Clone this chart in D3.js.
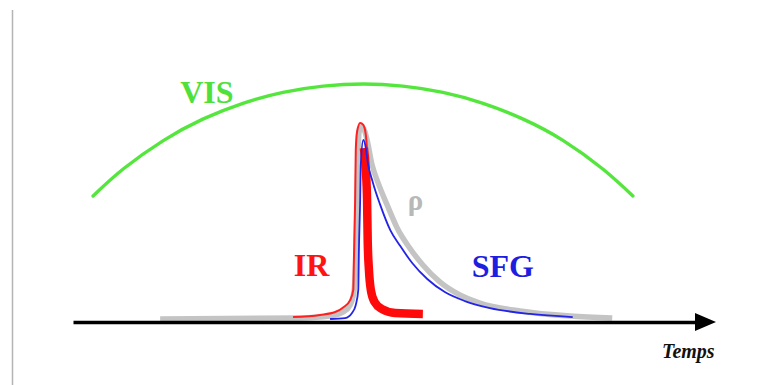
<!DOCTYPE html>
<html>
<head>
<meta charset="utf-8">
<script src="https://cdn.jsdelivr.net/npm/d3@7/dist/d3.min.js"></script>
<style>
html,body{margin:0;padding:0;background:#fff;}
svg{display:block;}
</style>
</head>
<body>
<svg id="chart" width="770" height="385"></svg>
<script>
// ---- data (time t in 0..100, signal in arbitrary units, peak ~100) ----
const visT = [3.2, 8.0, 14.4, 20.7, 27.1, 33.5, 39.9, 46.3, 52.6, 59.0, 65.4, 71.8, 78.2, 84.5, 89.3];
const visV = [63.1, 76.9, 91.5, 102.5, 110.6, 116.2, 119.4, 120.5, 119.4, 116.2, 110.6, 102.5, 91.5, 76.9, 63.1];

const rhoT = [13.9, 36.2, 41.0, 43.1, 44.2, 44.8, 45.1, 45.3, 45.5, 45.6, 45.9, 46.4, 46.9, 47.7, 48.6, 50.1, 51.7, 53.7, 55.8, 58.5, 61.7, 64.9, 71.3, 79.3, 86.0];
const rhoV = [0, 0.5, 1.5, 3.6, 7.2, 13.8, 30.3, 61.0, 86.7, 95.4, 98.5, 97.4, 91.8, 79.0, 70.3, 58.5, 46.7, 36.4, 27.7, 19.0, 12.3, 8.2, 4.1, 1.5, 0.5];

const sfgT = [41.0, 43.4, 44.5, 45.1, 45.5, 45.6, 45.8, 45.9, 46.3, 46.7, 47.0, 47.8, 49.0, 50.6, 52.2, 54.1, 56.5, 59.3, 62.5, 66.5, 72.9, 79.7];
const sfgV = [0, 0.5, 3.1, 7.2, 14.9, 35.4, 61.0, 79.0, 91.8, 87.7, 80.5, 70.3, 58.5, 45.6, 37.4, 28.7, 20.5, 13.8, 9.2, 5.6, 2.6, 1.0];

const irRiseT = [35.1, 39.4, 41.8, 43.2, 44.2, 44.7, 44.8, 45.0, 45.1, 45.3, 45.8, 46.3, 46.7, 46.9];
const irRiseV = [1.0, 2.1, 3.6, 6.2, 9.7, 14.9, 30.3, 61.0, 86.7, 95.9, 100.5, 99.5, 94.4, 86.7];

const irDecayT = [46.4, 46.7, 46.9, 47.0, 47.2, 47.5, 48.1, 49.3, 51.4, 55.8];
const irDecayV = [87.7, 76.4, 61.0, 40.5, 25.1, 14.9, 8.7, 5.1, 3.1, 2.6];

const labels = ["VIS", "IR", "SFG", "\u03C1"];
const axisLabel = "Temps";

// ---- layout ----
const svg = d3.select("#chart");
const x = d3.scaleLinear().domain([0, 100]).range([73, 700]);
const y = d3.scaleLinear().domain([0, 100]).range([319, 124]);

const zip = (a, b) => a.map((v, i) => [v, b[i]]);
const line = d3.line()
  .x(d => x(d[0])).y(d => y(d[1]))
  .curve(d3.curveMonotoneX);

// panel frame with soft shadow
const defs = svg.append("defs");
const f = defs.append("filter").attr("id", "sh").attr("x", "-50%").attr("y", "-50%").attr("width", "200%").attr("height", "200%");
f.append("feGaussianBlur").attr("stdDeviation", 1.6);

svg.append("line").attr("x1", 11).attr("x2", 11).attr("y1", 10).attr("y2", 385)
  .attr("stroke", "#c8c8c8").attr("stroke-width", 4).attr("filter", "url(#sh)");
svg.append("line").attr("x1", 12).attr("x2", 770).attr("y1", 10).attr("y2", 10)
  .attr("stroke", "#e4e4e4").attr("stroke-width", 2).attr("filter", "url(#sh)");
svg.append("line").attr("x1", 12.5).attr("x2", 12.5).attr("y1", 10).attr("y2", 385)
  .attr("stroke", "#b4b4b4").attr("stroke-width", 1.5);

// VIS arc
svg.append("path").datum(zip(visT, visV))
  .attr("d", d3.line().x(d => x(d[0])).y(d => y(d[1])).curve(d3.curveNatural))
  .attr("fill", "none").attr("stroke", "#55e63e").attr("stroke-width", 3.4)
  .attr("stroke-linecap", "round");

// rho (gray, thick)
svg.append("path").datum(zip(rhoT, rhoV)).attr("d", line)
  .attr("fill", "none").attr("stroke", "#c4c4c4").attr("stroke-width", 5.5)
  .attr("stroke-linejoin", "round");

// IR thin rise
svg.append("path").datum(zip(irRiseT, irRiseV)).attr("d", line)
  .attr("fill", "none").attr("stroke", "#ff2020").attr("stroke-width", 2)
  .attr("stroke-linejoin", "round");

// IR thick decay
svg.append("path").datum(zip(irDecayT, irDecayV)).attr("d", line)
  .attr("fill", "none").attr("stroke", "#ff0a0a").attr("stroke-width", 8.5)
  .attr("stroke-linejoin", "round");

// SFG (blue, thin)
svg.append("path").datum(zip(sfgT, sfgV)).attr("d", line)
  .attr("fill", "none").attr("stroke", "#2424e8").attr("stroke-width", 1.8)
  .attr("stroke-linejoin", "round");

// time axis
const axisG = svg.append("g").attr("transform", "translate(0,322)")
  .call(d3.axisBottom(x).tickValues([]).tickSizeOuter(0));
axisG.select(".domain").attr("stroke", "#000").attr("stroke-width", 3.5);
const xe = x(100);
svg.append("path")
  .attr("d", `M${xe - 5},313 L${xe + 16},322 L${xe - 5},331 Z`)
  .attr("fill", "#000");

svg.append("text").attr("x", 662).attr("y", 358)
  .attr("font-family", "Liberation Serif, Times New Roman, serif")
  .attr("font-style", "italic").attr("font-weight", "bold")
  .attr("font-size", 20).attr("fill", "#111").text(axisLabel);

// series labels
const serif = "Liberation Serif, Times New Roman, serif";
svg.append("text").attr("x", x(17.1)).attr("y", y(110.8))
  .attr("font-family", serif).attr("font-weight", "bold").attr("font-size", 32)
  .attr("fill", "#4fe03a").text(labels[0]);
svg.append("text").attr("x", x(35.2)).attr("y", y(22.1))
  .attr("font-family", serif).attr("font-weight", "bold").attr("font-size", 32)
  .attr("fill", "#ff1414").text(labels[1]);
svg.append("text").attr("x", x(63.6)).attr("y", y(21.5))
  .attr("font-family", serif).attr("font-weight", "bold").attr("font-size", 32)
  .attr("fill", "#1e1ee0").text(labels[2]);
svg.append("text").attr("x", x(53.4)).attr("y", y(55.9))
  .attr("font-family", serif).attr("font-weight", "bold").attr("font-size", 29)
  .attr("fill", "#b8b8b8").text(labels[3]);
</script>
</body>
</html>
